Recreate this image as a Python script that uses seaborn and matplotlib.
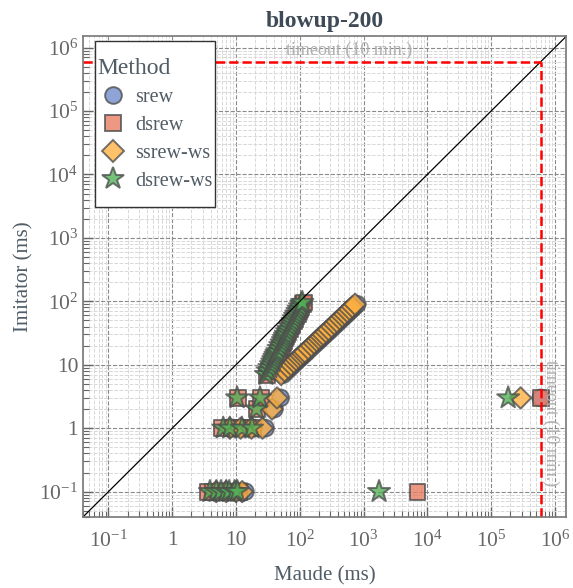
import matplotlib
matplotlib.use("Agg")
import matplotlib.pyplot as plt
import numpy as np
import pandas as pd
import seaborn as sns
from matplotlib.ticker import FuncFormatter, FixedLocator, LogLocator, NullFormatter
from matplotlib.offsetbox import DrawingArea

# Maude time vs Imitator time (ms) per method
srew_maude = [4.8, 6.0, 7.6, 9.5, 12.0, 14.0,
              9.0, 13.0, 19.0, 29.0,
              40.0, 50.0,
              55, 63, 71, 79, 87, 95, 104, 112, 121, 130, 147, 164, 181, 199, 216,
              233, 252, 279, 306, 341, 377, 413, 457, 502, 548, 602, 657, 720, 794,
              600000]
srew_imitator = [0.1, 0.1, 0.1, 0.1, 0.1, 0.1,
                 1, 1, 1, 1,
                 2, 3,
                 7, 8, 9, 10, 11, 12, 13, 14, 15, 16, 18, 20, 22, 24, 26,
                 28, 30, 33, 36, 40, 44, 48, 53, 58, 63, 69, 75, 82, 90,
                 3]

dsrew_maude = [3.6, 4.4, 5.3, 6.4, 7.6, 9.2, 11.0,
               6.0, 8.5, 13.0, 18.5,
               21.5, 10.6, 24.5,
               31, 33, 35, 37, 39, 40.5, 42, 43.5, 45, 46.5, 49.5, 52, 54.5, 57, 59.5,
               61.5, 63.5, 66.5, 70, 73.5, 77, 81, 85, 89, 92.5, 97, 101, 106, 111, 115,
               7000, 600000]
dsrew_imitator = [0.1, 0.1, 0.1, 0.1, 0.1, 0.1, 0.1,
                  1, 1, 1, 1,
                  2, 3, 3,
                  7, 8, 9, 10, 11, 12, 13, 14, 15, 16, 18, 20, 22, 24, 26,
                  28, 30, 33, 36, 40, 44, 48, 53, 58, 63, 69, 75, 82, 90, 96,
                  0.1, 3]

ssrew_ws_maude = [4.9, 7.0, 10.0, 12.5,
                  8.0, 11.8, 17.5, 26.0,
                  36.6, 44.0,
                  51, 58, 66, 73, 81, 88, 96, 104, 112, 120, 136, 152, 168, 184, 200,
                  216, 233, 258, 283, 316, 349, 382, 423, 465, 507, 557, 608, 667, 735,
                  290000]
ssrew_ws_imitator = [0.1, 0.1, 0.1, 0.1,
                     1, 1, 1, 1,
                     2, 3,
                     7, 8, 9, 10, 11, 12, 13, 14, 15, 16, 18, 20, 22, 24, 26,
                     28, 30, 33, 36, 40, 44, 48, 53, 58, 63, 69, 75, 82, 90,
                     3]

dsrew_ws_maude = [3.9, 4.9, 5.8, 7.0, 7.8, 9.5, 10.5,
                  6.3, 8.0, 12.4, 17.8,
                  21.0, 10.4, 23.8,
                  29.5, 31.5, 33.5, 35.5, 37, 38.5, 40, 41.5, 43, 44.5, 47, 49.5, 52, 54.5,
                  56.5, 58.5, 60.5, 63.5, 66.5, 70, 73.5, 77, 81, 84.5, 88, 92.5, 96.5,
                  101, 106, 109.5,
                  1750, 185000]
dsrew_ws_imitator = [0.1, 0.1, 0.1, 0.1, 0.1, 0.1, 0.1,
                     1, 1, 1, 1,
                     2, 3, 3,
                     7, 8, 9, 10, 11, 12, 13, 14, 15, 16, 18, 20, 22, 24,
                     26, 28, 30, 33, 36, 40, 44, 48, 53, 58, 63, 69, 75,
                     82, 90, 96,
                     0.1, 3]

methods = ["srew", "dsrew", "ssrew-ws", "dsrew-ws"]
colors = ["#6f8bcb", "#e87b60", "#ffb03f", "#50b055"]
markers = ["o", "s", "D", "*"]
marker_sizes = [145, 130, 118, 280]
major_ticks = [1e-1, 1, 10, 1e2, 1e3, 1e4, 1e5, 1e6]
timeout = 600000
lims = [0.04, 1.5e6]

df = pd.concat([
    pd.DataFrame({"Maude": srew_maude, "Imitator": srew_imitator, "Method": "srew"}),
    pd.DataFrame({"Maude": dsrew_maude, "Imitator": dsrew_imitator, "Method": "dsrew"}),
    pd.DataFrame({"Maude": ssrew_ws_maude, "Imitator": ssrew_ws_imitator, "Method": "ssrew-ws"}),
    pd.DataFrame({"Maude": dsrew_ws_maude, "Imitator": dsrew_ws_imitator, "Method": "dsrew-ws"}),
], ignore_index=True)

sns.set_theme(style="white")
plt.rcParams["font.family"] = ["Liberation Serif", "DejaVu Serif"]
plt.rcParams["mathtext.fontset"] = "custom"
plt.rcParams["mathtext.rm"] = "Liberation Serif"
plt.rcParams["mathtext.it"] = "Liberation Serif:italic"
text_color = "#505c66"
plt.rcParams["text.color"] = text_color
plt.rcParams["axes.labelcolor"] = text_color
plt.rcParams["xtick.color"] = "#666666"
plt.rcParams["ytick.color"] = "#666666"

fig = plt.figure(figsize=(5.73, 5.88), dpi=100)
ax = fig.add_axes([0.145, 0.121, 0.843, 0.817])

sns.scatterplot(data=df, x="Maude", y="Imitator", hue="Method", style="Method", size="Method",
                hue_order=methods, style_order=methods, size_order=methods,
                palette=dict(zip(methods, colors)), markers=dict(zip(methods, markers)),
                sizes=dict(zip(methods, marker_sizes)),
                alpha=0.78, edgecolor="#4d4d4d", linewidth=1.4, ax=ax)

ax.set_xscale("log")
ax.set_yscale("log")
ax.set_xlim(lims)
ax.set_ylim(lims)

ax.plot(lims, lims, color="black", lw=0.9)
ax.plot([lims[0], timeout], [timeout, timeout], color="red", ls="--", lw=1.8)
ax.plot([timeout, timeout], [lims[0], timeout], color="red", ls="--", lw=1.8)
ax.text(600, timeout * 1.12, "timeout (10 min.)", color="#b0b0b0", fontsize=13,
        ha="center", va="bottom")
ax.text(timeout * 1.06, 1.2, "timeout (10 min.)", color="#b0b0b0", fontsize=13,
        rotation=270, ha="left", va="center")

def fmt(v, pos):
    e = int(round(np.log10(v)))
    if e == 0:
        return "1"
    if e == 1:
        return "10"
    return r"$10^{%d}$" % e

for axis in (ax.xaxis, ax.yaxis):
    axis.set_major_locator(FixedLocator(major_ticks))
    axis.set_minor_locator(LogLocator(base=10, subs=np.arange(2, 10), numticks=20))
    axis.set_major_formatter(FuncFormatter(fmt))
    axis.set_minor_formatter(NullFormatter())

ax.grid(which="major", ls="--", color="#8a8a8a", lw=0.8)
ax.grid(which="minor", ls="--", color="#d8d8d8", lw=0.7)
ax.set_axisbelow(True)
ax.tick_params(which="both", direction="in", labelsize=15.5, bottom=True, left=True)
ax.tick_params(axis="x", which="major", pad=10)
ax.tick_params(which="major", length=7, width=1)
ax.tick_params(which="minor", length=4, width=0.8)
for sp in ax.spines.values():
    sp.set_color("#777777")
    sp.set_linewidth(1.2)

ax.set_xlabel("Maude (ms)", fontsize=15, labelpad=10)
ax.set_ylabel("Imitator (ms)", fontsize=15, labelpad=4)
ax.set_title("blowup-200", fontsize=17, fontweight="bold", color="#3e4a55", pad=7)

leg = ax.legend(title="Method", loc="upper left", bbox_to_anchor=(0.024, 0.99),
                borderaxespad=0, fontsize=14.5, title_fontsize=17,
                frameon=True, fancybox=False, framealpha=1, edgecolor="#333333",
                borderpad=0.15, labelspacing=0.45, handlelength=1.5, handletextpad=0.35)
leg._legend_box.align = "left"
# extra room above the title and below the last entry
box = leg._legend_box
box._children = [DrawingArea(1, 3), *box._children, DrawingArea(1, 3)]
leg.get_frame().set_linewidth(1.0)

fig.savefig("out.png", dpi=100)
